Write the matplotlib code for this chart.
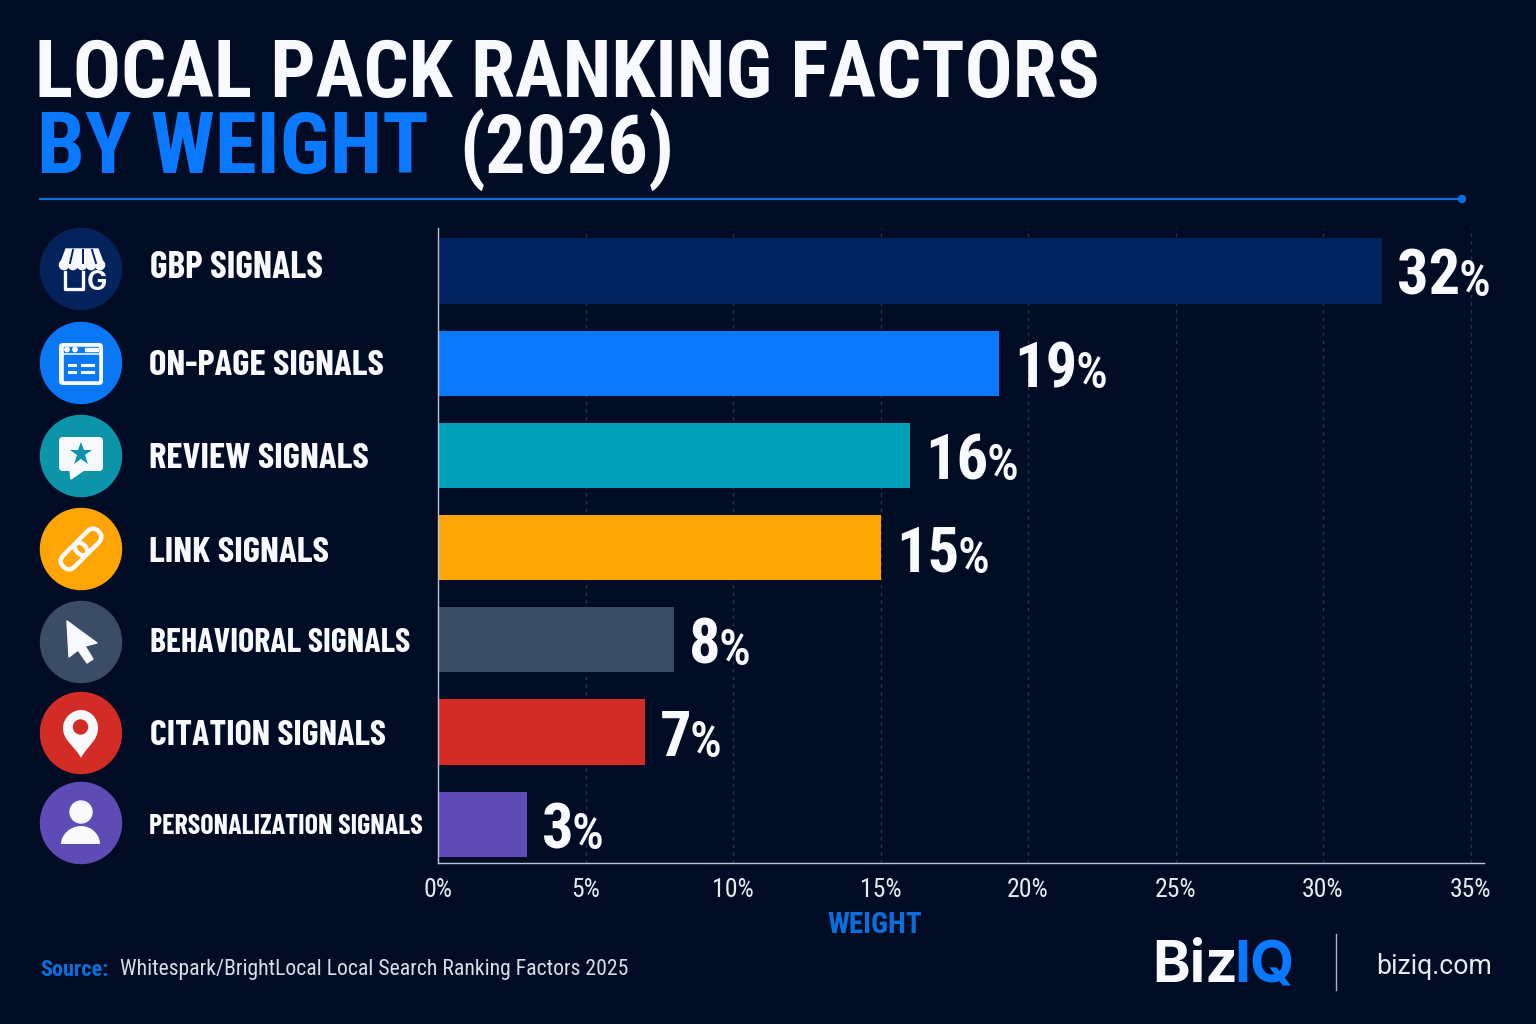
import matplotlib
matplotlib.use('Agg')
import matplotlib.pyplot as plt
from matplotlib.patches import Circle, FancyBboxPatch, Polygon, PathPatch, Rectangle
from matplotlib.path import Path
from matplotlib.transforms import Affine2D

CATEGORIES = ['GBP SIGNALS', 'ON-PAGE SIGNALS', 'REVIEW SIGNALS', 'LINK SIGNALS',
              'BEHAVIORAL SIGNALS', 'CITATION SIGNALS', 'PERSONALIZATION SIGNALS']
WEIGHTS = [32, 19, 16, 15, 8, 7, 3]
BAR_COLORS = ['#02235f', '#0a78ff', '#00a0b8', '#ffa505', '#3a4c66', '#d32b25', '#5f4bb6']
ICON_COLORS = ['#04225c', '#0a78f5', '#0e94a8', '#ffa505', '#3a4c66', '#d32b25', '#5f4bb6']
TICK_VALUES = [0, 5, 10, 15, 20, 25, 30, 35]

BG = '#020c24'
BLUE = '#0a78ff'
WHITE = '#f7f9fc'
COND = ['Roboto Condensed', 'DejaVu Sans']
NARROW = ['Barlow Condensed', 'Roboto Condensed', 'DejaVu Sans']

plt.rcParams['font.family'] = COND

W, H = 1536, 1024
fig = plt.figure(figsize=(W / 100, H / 100), dpi=100, facecolor=BG)

# full page layer in pixel coordinates, for the header, icons and footer
page = fig.add_axes([0, 0, 1, 1], zorder=0)
page.set_xlim(0, W)
page.set_ylim(H, 0)
page.axis('off')

# chart area
L, R, T, B = 438, 1484, 228, 863
ax = fig.add_axes([L / W, 1 - B / H, (R - L) / W, (B - T) / H], zorder=1)
ax.patch.set_alpha(0)
px_per_pct = 29.5
row_px = 92.2
ax.set_xlim(0, (R - L) / px_per_pct)
ax.set_ylim((B - 271) / row_px, (T - 271) / row_px)

positions = list(range(len(CATEGORIES)))
ax.barh(positions, WEIGHTS, height=0.705, color=BAR_COLORS, zorder=2)

ax.set_xticks(TICK_VALUES)
ax.set_xticklabels([f'{v}%' for v in TICK_VALUES], fontsize=18.5, color='#e6ebf2')
ax.set_yticks([])
ax.tick_params(axis='x', length=0, pad=10.5)
ax.xaxis.grid(True, color='#26344f', linestyle=(0, (2.5, 3)), linewidth=1, zorder=1)
ax.set_axisbelow(True)
for side in ['top', 'right']:
    ax.spines[side].set_visible(False)
for side in ['left', 'bottom']:
    ax.spines[side].set_color('#b9c4d4')
    ax.spines[side].set_linewidth(1.0)
ax.set_xlabel('WEIGHT', x=0.418, fontsize=21, fontweight='bold', color='#0a6fdc', labelpad=7)

renderer = fig.canvas.get_renderer()

# value labels: large number with a smaller percent sign after it
for y, v in zip(positions, WEIGHTS):
    num = ax.annotate(str(v), (v, y), xytext=(11, -5), textcoords='offset points',
                      fontsize=45, fontweight='bold', color=WHITE, va='center', ha='left', zorder=3)
    box = num.get_window_extent(renderer)
    ax.annotate('%', (box.x1 - 2, box.y0 + 12), xycoords='figure pixels', fontsize=36,
                fontweight='medium', color=WHITE, va='baseline', ha='left', zorder=3)

# title
page.text(35, 97, 'LOCAL PACK RANKING FACTORS', fontsize=57.3, fontweight='bold', color=WHITE, va='baseline')
page.text(37, 173, 'BY WEIGHT', fontsize=61.5, fontweight='black', color=BLUE, va='baseline')
page.text(459, 173, '(2026)', fontsize=58, fontweight='bold', color=WHITE, va='baseline')
page.plot([39, 1462], [199, 199], color='#0a6fe0', lw=1.6, solid_capstyle='butt')
page.add_patch(Circle((1462, 199), 3.5, color='#0a6fe0'))

# row labels
label_x = [150, 149, 149, 149, 150, 150, 149]
label_base = [278, 375, 468, 562, 652, 745, 834]
label_size = [27, 26.5, 26.5, 26.6, 24.5, 25.9, 20.2]
for name, x, y, s in zip(CATEGORIES, label_x, label_base, label_size):
    page.text(x, y, name, fontsize=s, fontweight='bold', family=NARROW, color=WHITE, va='baseline', ha='left')


def rounded(x0, y0, x1, y1, r, **kw):
    return FancyBboxPatch((x0 + r, y0 + r), x1 - x0 - 2 * r, y1 - y0 - 2 * r,
                          boxstyle=f'round,pad={r},rounding_size={r}', linewidth=kw.pop('linewidth', 0), **kw)


def store_icon(cy, bg):
    # awning with scalloped edge
    page.add_patch(Polygon([(66, 249), (98, 249), (104, 265), (60, 265)], color=WHITE))
    for cx in [64, 73, 82, 91, 100]:
        page.add_patch(Circle((cx, 265), 4.6, color=WHITE))
    for xa, xb in [(73, 70), (83, 83), (92, 96)]:
        page.plot([xa, xb], [250, 263], color=bg, lw=1.4)
    # shop body, open toward the letter
    page.plot([65, 65, 83, 83], [272, 289, 289, 272], color=WHITE, lw=2.4, solid_joinstyle='round')
    page.text(96.5, 283, 'G', fontsize=19.5, fontweight='bold', family=['Inter', 'DejaVu Sans'],
              color=WHITE, ha='center', va='center')


def page_icon(cy, bg):
    page.add_patch(rounded(59, 343, 103, 385, 4, facecolor=WHITE))
    page.add_patch(Rectangle((64, 355), 34, 25, color=bg))
    page.add_patch(Rectangle((64, 347), 34, 5, color=bg))
    page.add_patch(Circle((67, 349.5), 2.2, color=WHITE))
    page.add_patch(Circle((75, 349.5), 2.2, color=WHITE))
    page.add_patch(Rectangle((85, 348), 13, 3, color=WHITE))
    for y, xs in [(365, (69, 75, 82, 93)), (372, (69, 75, 82, 93))]:
        page.plot(xs[:2], [y, y], color=WHITE, lw=2.2)
        page.plot(xs[2:], [y, y], color=WHITE, lw=2.2)


def review_icon(cy, bg):
    page.add_patch(rounded(59, 437, 103, 471, 4, facecolor=WHITE))
    page.add_patch(Polygon([(70, 470), (71, 479), (84, 470)], color=WHITE))
    page.plot([81], [454], marker='*', markersize=17, color=bg, markeredgewidth=0)


def link_icon(cy, bg):
    # two capsule outlines turned onto the rising diagonal
    rot = Affine2D().rotate_deg_around(81, 549, -45) + page.transData
    for x0, x1 in [(56, 86), (76, 106)]:
        p = rounded(x0, 541, x1, 557, 8, facecolor='none', edgecolor=WHITE, linewidth=3.2)
        p.set_transform(rot)
        page.add_patch(p)


def cursor_icon(cy, bg):
    page.add_patch(Polygon([(67, 621), (97, 643), (85, 646), (93, 659), (87, 663),
                            (78, 650), (69, 657)], color=WHITE, joinstyle='round'))


def pin_icon(cy, bg):
    verts = [(81, 758), (75, 746), (63, 741), (63, 728), (63, 718), (72, 710), (81, 710),
             (90, 710), (98, 718), (98, 728), (98, 741), (87, 746), (81, 758)]
    codes = [Path.MOVETO] + [Path.CURVE4] * 12
    page.add_patch(PathPatch(Path(verts, codes), facecolor=WHITE, linewidth=0))
    page.add_patch(Circle((80.5, 727), 7, color=bg))


def person_icon(cy, bg):
    page.add_patch(Circle((81, 812), 11, color=WHITE))
    verts = [(61, 844), (61, 835), (70, 826), (81, 826), (92, 826), (100, 835), (100, 844), (61, 844)]
    codes = [Path.MOVETO, Path.CURVE4, Path.CURVE4, Path.CURVE4, Path.CURVE4, Path.CURVE4, Path.CURVE4, Path.LINETO]
    page.add_patch(PathPatch(Path(verts, codes), facecolor=WHITE, linewidth=0))


# icon badges to the left of each label
icon_y = [269, 363, 456, 549, 642, 733, 823]
icons = [store_icon, page_icon, review_icon, link_icon, cursor_icon, pin_icon, person_icon]
for cy, col, draw in zip(icon_y, ICON_COLORS, icons):
    page.add_patch(Circle((81, cy), 40.5, color=col))
    draw(cy, col)

# footer
page.text(40, 970, 'Source:', fontsize=16, fontweight='bold', color='#0a6fdc', va='center')
page.text(120, 970, 'Whitespark/BrightLocal Local Search Ranking Factors 2025', fontsize=15.7,
          color='#d8dee8', va='center')
logo = ['Inter', 'DejaVu Sans']
page.text(1152, 982, 'Biz', fontsize=41, fontweight='bold', family=logo, color=WHITE, va='baseline')
page.text(1234, 982, 'IQ', fontsize=41, fontweight='bold', family=logo, color=BLUE, va='baseline')
page.plot([1336, 1336], [934, 990], color='#aab4c4', lw=1)
page.text(1376, 967, 'biziq.com', fontsize=19.2, family=['Roboto', 'DejaVu Sans'], color='#e6ebf2', va='center')

fig.savefig('out.png', dpi=100, facecolor=BG)
